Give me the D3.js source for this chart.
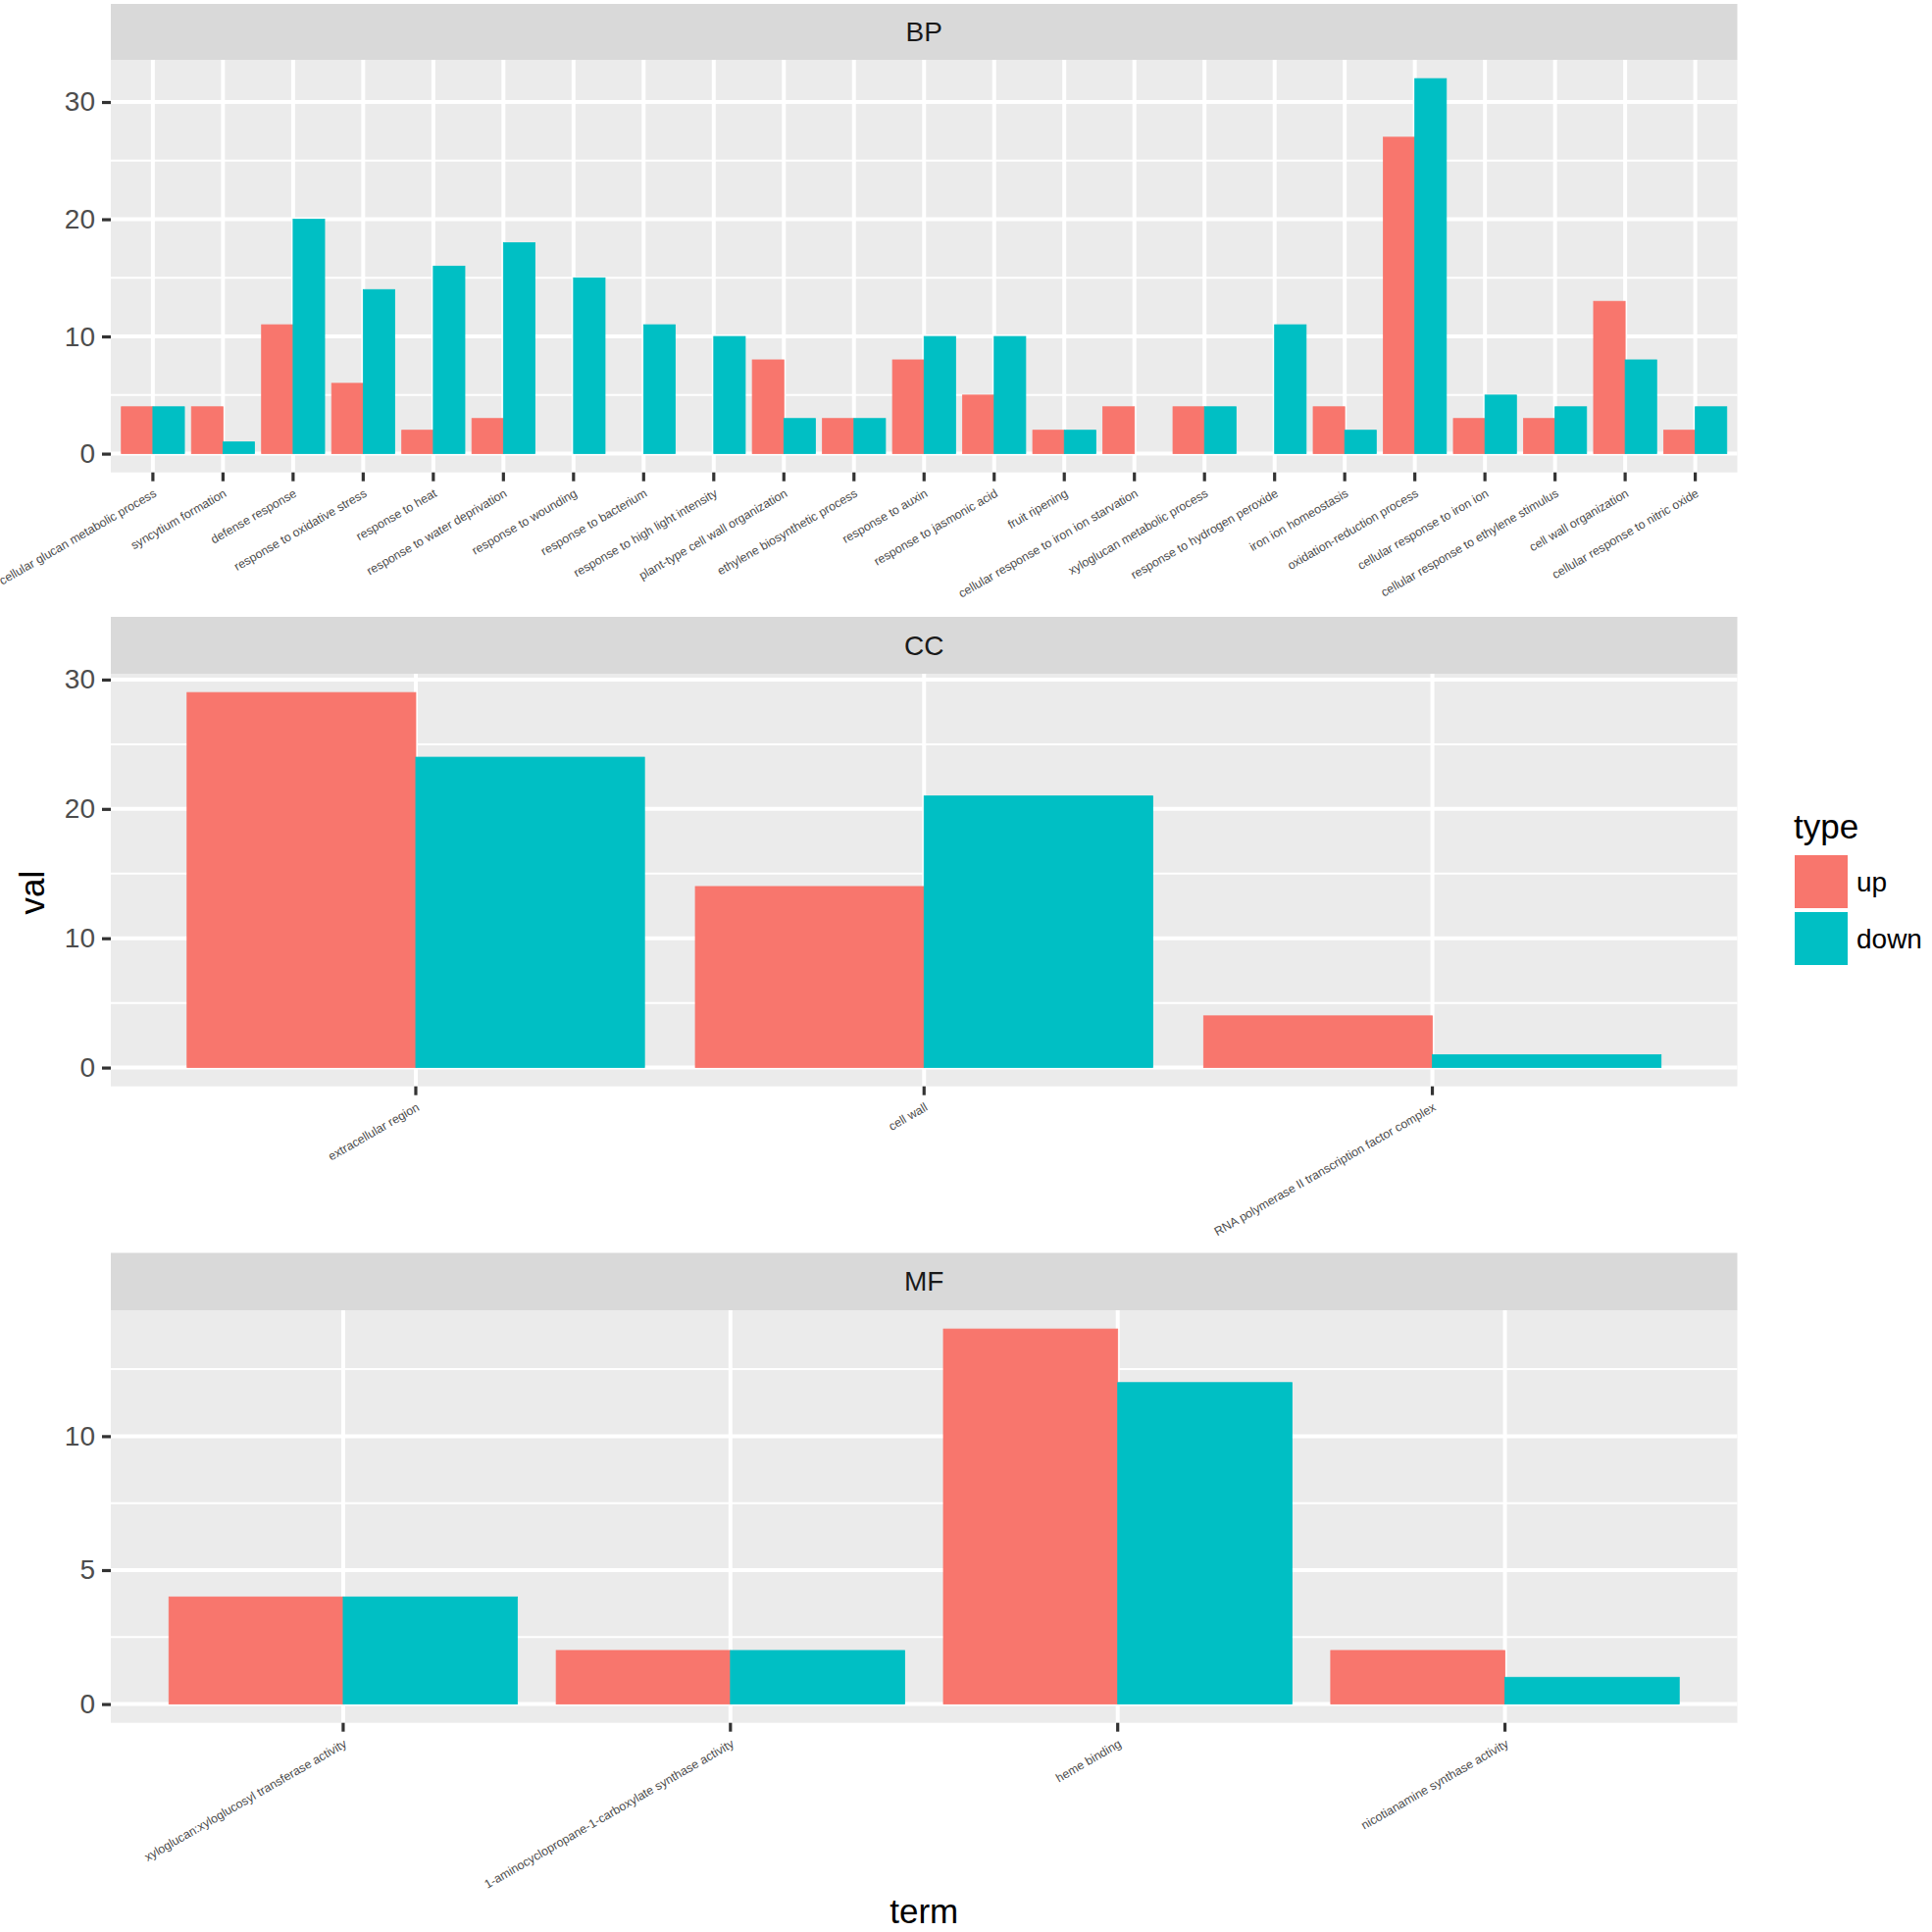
<!DOCTYPE html>
<html><head><meta charset="utf-8">
<script src="https://cdn.jsdelivr.net/npm/d3@7/dist/d3.min.js"></script>
<style>
html,body{margin:0;padding:0;background:#fff;}
svg{display:block;font-family:"Liberation Sans",Arial,sans-serif;}
</style></head>
<body>
<svg id="chart" width="1970" height="1970"></svg>
<script>
// ---- data ----
const typeLevels = ["up", "down"];
const typeColors = ["#F8766D", "#00BFC4"];

const bpTerms = ["cellular glucan metabolic process","syncytium formation","defense response","response to oxidative stress","response to heat","response to water deprivation","response to wounding","response to bacterium","response to high light intensity","plant-type cell wall organization","ethylene biosynthetic process","response to auxin","response to jasmonic acid","fruit ripening","cellular response to iron ion starvation","xyloglucan metabolic process","response to hydrogen peroxide","iron ion homeostasis","oxidation-reduction process","cellular response to iron ion","cellular response to ethylene stimulus","cell wall organization","cellular response to nitric oxide"];
const bpUp   = [4,4,11,6,2,3,0,0,0,8,3,8,5,2,4,4,0,4,27,3,3,13,2];
const bpDown = [4,1,20,14,16,18,15,11,10,3,3,10,10,2,0,4,11,2,32,5,4,8,4];
const bpTicks = [0,10,20,30];

const ccTerms = ["extracellular region","cell wall","RNA polymerase II transcription factor complex"];
const ccUp   = [29,14,4];
const ccDown = [24,21,1];
const ccTicks = [0,10,20,30];

const mfTerms = ["xyloglucan:xyloglucosyl transferase activity","1-aminocyclopropane-1-carboxylate synthase activity","heme binding","nicotianamine synthase activity"];
const mfUp   = [4,2,14,2];
const mfDown = [4,2,12,1];
const mfTicks = [0,5,10];

const facetNames = ["BP","CC","MF"];

// ---- layout ----
const svg = d3.select("#chart");
const PL = 113, PR = 1771.5;
const layouts = [
  {stripTop: 4,      top: 61,   bottom: 481.7},
  {stripTop: 629,    top: 687,  bottom: 1107.7},
  {stripTop: 1277.5, top: 1336, bottom: 1756.7}
];
const facets = [
  {name: facetNames[0], terms: bpTerms, up: bpUp, down: bpDown, ticks: bpTicks},
  {name: facetNames[1], terms: ccTerms, up: ccUp, down: ccDown, ticks: ccTicks},
  {name: facetNames[2], terms: mfTerms, up: mfUp, down: mfDown, ticks: mfTicks}
];
const color = d3.scaleOrdinal().domain(typeLevels).range(typeColors);

facets.forEach((f, fi) => {
  const L = layouts[fi];
  const g = svg.append("g");
  const maxV = d3.max(f.up.concat(f.down));
  const y = d3.scaleLinear().domain([-0.05 * maxV, 1.05 * maxV]).range([L.bottom, L.top]);
  const x = d3.scaleBand().domain(f.terms).range([PL, PR]).paddingInner(0).paddingOuter(0.1);
  const bw = x.bandwidth();
  const xt = d3.scaleBand().domain(typeLevels).range([0.05 * bw, 0.95 * bw]).padding(0);

  // strip
  g.append("rect").attr("x", PL).attr("y", L.stripTop).attr("width", PR - PL)
    .attr("height", L.top - L.stripTop).attr("fill", "#D9D9D9");
  g.append("text").attr("x", (PL + PR) / 2).attr("y", (L.stripTop + L.top) / 2)
    .attr("text-anchor", "middle").attr("dominant-baseline", "central")
    .attr("font-size", 28).attr("fill", "#1A1A1A").text(f.name);

  // panel
  g.append("rect").attr("x", PL).attr("y", L.top).attr("width", PR - PL)
    .attr("height", L.bottom - L.top).attr("fill", "#EBEBEB");

  // minor grid
  const step = f.ticks[1] - f.ticks[0];
  const minors = [];
  for (let v = f.ticks[0] - step / 2; v <= y.domain()[1]; v += step) {
    if (v >= y.domain()[0]) minors.push(v);
  }
  g.selectAll(".minor").data(minors).enter().append("line")
    .attr("x1", PL).attr("x2", PR).attr("y1", d => y(d)).attr("y2", d => y(d))
    .attr("stroke", "#fff").attr("stroke-width", 2);
  // major grid
  g.selectAll(".hmaj").data(f.ticks).enter().append("line")
    .attr("x1", PL).attr("x2", PR).attr("y1", d => y(d)).attr("y2", d => y(d))
    .attr("stroke", "#fff").attr("stroke-width", 4);
  g.selectAll(".vmaj").data(f.terms).enter().append("line")
    .attr("x1", d => x(d) + bw / 2).attr("x2", d => x(d) + bw / 2)
    .attr("y1", L.top).attr("y2", L.bottom)
    .attr("stroke", "#fff").attr("stroke-width", 4);

  // bars
  const rows = [];
  f.terms.forEach((t, i) => {
    rows.push({term: t, type: typeLevels[0], val: f.up[i]});
    rows.push({term: t, type: typeLevels[1], val: f.down[i]});
  });
  g.selectAll(".bar").data(rows).enter().append("rect")
    .attr("x", d => x(d.term) + xt(d.type))
    .attr("width", xt.bandwidth())
    .attr("y", d => y(Math.max(d.val, 0)))
    .attr("height", d => Math.abs(y(0) - y(d.val)))
    .attr("fill", d => color(d.type))
    .attr("stroke", d => color(d.type)).attr("stroke-width", 0.8);

  // y axis
  const ya = g.append("g").attr("transform", `translate(${PL},0)`)
    .call(d3.axisLeft(y).tickValues(f.ticks).tickSize(9).tickPadding(7).tickFormat(d3.format("d")));
  ya.select(".domain").remove();
  ya.selectAll(".tick line").attr("stroke", "#333333").attr("stroke-width", 3.2);
  ya.selectAll(".tick text").attr("font-size", 28).attr("fill", "#4D4D4D")
    .attr("font-family", "Liberation Sans, Arial, sans-serif");

  // x axis
  const xa = g.append("g").attr("transform", `translate(0,${L.bottom})`)
    .call(d3.axisBottom(x).tickSize(9).tickSizeOuter(0));
  xa.select(".domain").remove();
  xa.selectAll(".tick line").attr("stroke", "#333333").attr("stroke-width", 3.2);
  xa.selectAll(".tick text").remove();
  xa.selectAll(".tick").append("text")
    .attr("transform", "translate(0,16) rotate(-30)")
    .attr("text-anchor", "end").attr("dy", "0.72em")
    .attr("font-size", 12.4).attr("fill", "#4D4D4D")
    .attr("font-family", "Liberation Sans, Arial, sans-serif")
    .text(d => d);
});

// axis titles
svg.append("text").attr("x", (PL + PR) / 2).attr("y", 1961)
  .attr("text-anchor", "middle").attr("font-size", 35).attr("fill", "#000").text("term");
svg.append("text").attr("transform", "translate(45,910) rotate(-90)")
  .attr("text-anchor", "middle").attr("font-size", 35).attr("fill", "#000").text("val");

// legend
const lg = svg.append("g");
lg.append("text").attr("x", 1829).attr("y", 855).attr("font-size", 35).attr("fill", "#000").text("type");
typeLevels.forEach((t, i) => {
  const ky = 872 + i * 58;
  lg.append("rect").attr("x", 1830).attr("y", ky).attr("width", 54).attr("height", 54).attr("fill", color(t));
  lg.append("text").attr("x", 1893).attr("y", ky + 27).attr("dominant-baseline", "central")
    .attr("font-size", 28).attr("fill", "#000").text(t);
});
</script>
</body></html>
